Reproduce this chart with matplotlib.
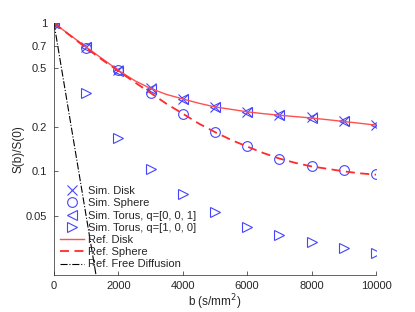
import numpy as np
import matplotlib
matplotlib.use("Agg")
import matplotlib.pyplot as plt

plt.rcParams['font.family'] = ['Liberation Sans', 'DejaVu Sans']

# b values (s/mm^2)
b = [0, 1000, 2000, 3000, 4000, 5000, 6000, 7000, 8000, 9000, 10000]

sim_disk = [1.0, 0.69, 0.48, 0.366, 0.31, 0.273, 0.253, 0.24, 0.231, 0.219, 0.206]
sim_sphere = [1.0, 0.68, 0.48, 0.34, 0.245, 0.184, 0.148, 0.122, 0.109, 0.1016, 0.0955]
sim_torus_z = [1.0, 0.685, 0.478, 0.362, 0.308, 0.272, 0.252, 0.239, 0.23, 0.218, 0.205]
sim_torus_x = [1.0, 0.337, 0.168, 0.103, 0.070, 0.053, 0.0423, 0.037, 0.0334, 0.0306, 0.028]

ref_b = [0, 500, 1000, 1500, 2000, 2500, 3000, 3500, 4000, 4500, 5000, 5500,
         6000, 6500, 7000, 7500, 8000, 8500, 9000, 9500, 10000]
ref_disk = [1.0, 0.83, 0.69, 0.575, 0.48, 0.41, 0.362, 0.33, 0.308, 0.288, 0.272,
            0.262, 0.252, 0.245, 0.239, 0.234, 0.229, 0.223, 0.217, 0.211, 0.205]
ref_sphere = [1.0, 0.825, 0.68, 0.565, 0.475, 0.4, 0.338, 0.285, 0.245, 0.21, 0.184,
              0.163, 0.147, 0.133, 0.122, 0.114, 0.108, 0.104, 0.1, 0.097, 0.095]
free_b = [0, 2000]
free_s = [1.0, 0.0025]

blue = '#4444ff'
fig = plt.figure(figsize=(4.15, 3.12), dpi=100)
ax = fig.add_axes([0.130, 0.1186, 0.776, 0.8074])

ax.plot(b, sim_disk, 'x', color=blue, ms=7, mew=0.8, label='Sim. Disk')
ax.plot(b, sim_sphere, 'o', color=blue, ms=7, mew=0.8, mfc='none', label='Sim. Sphere')
ax.plot(b, sim_torus_z, '<', color=blue, ms=6.5, mew=0.8, mfc='none', label='Sim. Torus, q=[0, 0, 1]')
ax.plot(b, sim_torus_x, '>', color=blue, ms=6.5, mew=0.8, mfc='none', label='Sim. Torus, q=[1, 0, 0]')
ax.plot(ref_b, ref_disk, '-', color='#ff5050', lw=1.0, label='Ref. Disk')
ax.plot(ref_b, ref_sphere, '--', color='#ff2a2a', lw=1.3, dashes=(5, 3), label='Ref. Sphere')
ax.plot(free_b, free_s, '-.', color='black', lw=0.8, label='Ref. Free Diffusion')

ax.set_yscale('log')
ax.set_xlim(0, 10000)
ax.set_ylim(0.02, 1)
ax.set_xticks([0, 2000, 4000, 6000, 8000, 10000])
ax.set_yticks([0.05, 0.1, 0.2, 0.5, 0.7, 1])
ax.set_yticklabels(['0.05', '0.1', '0.2', '0.5', '0.7', '1'])
ax.minorticks_off()
ax.tick_params(direction='in', length=3, width=0.5, labelsize=8, colors='#262626')
ax.tick_params(axis='y', pad=5)
ax.tick_params(axis='x', pad=4)
for s in ['top', 'right']:
    ax.spines[s].set_visible(False)
for s in ['left', 'bottom']:
    ax.spines[s].set_color('#262626')
    ax.spines[s].set_linewidth(0.5)
ax.set_xlabel('b (s/mm$^2$)', fontsize=8.5, color='#262626', labelpad=1)
ax.set_ylabel('S(b)/S(0)', fontsize=8.5, color='#262626', labelpad=1)

leg = ax.legend(loc='lower left', bbox_to_anchor=(0.0, 0.0), frameon=False, fontsize=8,
                labelspacing=0.2, handlelength=2.2, handletextpad=0.4, borderaxespad=0.3,
                borderpad=0.2)
for t in leg.get_texts():
    t.set_color('#262626')

fig.savefig('out.png', dpi=100)
